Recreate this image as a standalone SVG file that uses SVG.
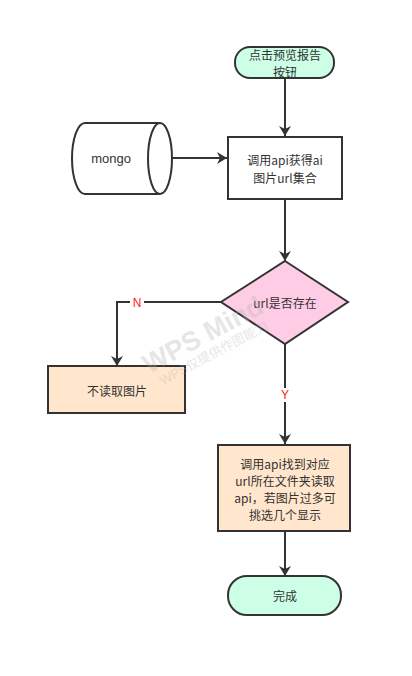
<svg xmlns="http://www.w3.org/2000/svg" width="412" height="676" viewBox="0 0 412 676">
  <defs>
    <marker id="arrow" markerWidth="10" markerHeight="12" refX="10" refY="6" orient="auto" markerUnits="userSpaceOnUse">
      <path d="M0,0 L10,6 L0,12 L3,6 Z" fill="#333333"/>
    </marker>
  </defs>
  <style>
    .shape { stroke: #333333; stroke-width: 2; }
    .term { fill: #ccffe6; }
    .proc { fill: #ffffff; }
    .warm { fill: #ffe6cc; }
    .dec { fill: #ffcce6; }
    .label { font-family: "Noto Sans CJK SC", "Liberation Sans", sans-serif; font-size: 12px; fill: #333333; text-anchor: middle; dominant-baseline: central; }
    .sans { font-family: "Liberation Sans", Arial, sans-serif; font-size: 13px; fill: #333333; text-anchor: middle; dominant-baseline: central; }
    .edge { fill: none; stroke: #333333; stroke-width: 2; }
    .branch { font-family: "Liberation Sans", Arial, sans-serif; font-size: 12px; fill: #ff2020; text-anchor: middle; dominant-baseline: central; }
    .wm { font-family: "Liberation Sans", "Noto Sans CJK SC", sans-serif; fill: #b0b0b0; opacity: 0.3; }
  </style>
  <rect width="412" height="676" fill="#ffffff"/>

  <!-- connectors -->
  <g id="connectors">
    <line class="edge" x1="285" y1="78" x2="285" y2="136" marker-end="url(#arrow)"/>
    <line class="edge" x1="172" y1="158" x2="227" y2="158" marker-end="url(#arrow)"/>
    <line class="edge" x1="285" y1="199" x2="285" y2="261" marker-end="url(#arrow)"/>
    <polyline class="edge" points="221,302 117,302 117,366" marker-end="url(#arrow)"/>
    <line class="edge" x1="285" y1="344" x2="285" y2="444" marker-end="url(#arrow)"/>
    <line class="edge" x1="285" y1="532" x2="285" y2="576" marker-end="url(#arrow)"/>
    <rect x="130" y="296" width="14" height="13" fill="#ffffff"/>
    <text class="branch" x="137" y="303">N</text>
    <rect x="279" y="388" width="12" height="14" fill="#ffffff"/>
    <text class="branch" x="285" y="395">Y</text>
  </g>

  <g id="start">
    <rect class="shape term" x="235" y="47" width="99" height="31" rx="15" ry="15"/>
    <text class="label" x="285" y="54">点击预览报告</text>
    <text class="label" x="285" y="71">按钮</text>
  </g>

  <g id="mongo">
    <path class="shape proc" d="M85,123 L160,123 A12,35.5 0 0 1 160,194 L85,194 A13,35.5 0 0 1 85,123 Z"/>
    <path class="shape" fill="none" d="M160,123 A12,35.5 0 0 0 160,194"/>
    <text class="sans" x="111" y="158">mongo</text>
  </g>

  <g id="fetch">
    <rect class="shape proc" x="228" y="137" width="114" height="62"/>
    <text class="label" x="285" y="159">调用api获得ai</text>
    <text class="label" x="285" y="177">图片url集合</text>
  </g>

  <g id="decision">
    <polygon class="shape dec" points="285,261 348,302 285,344 221,302"/>
    <text class="label" x="285" y="302">url是否存在</text>
  </g>

  <g id="skip">
    <rect class="shape warm" x="48" y="366" width="137" height="47"/>
    <text class="label" x="117" y="390">不读取图片</text>
  </g>

  <g id="read">
    <rect class="shape warm" x="218" y="445" width="132" height="86"/>
    <text class="label" x="285" y="463">调用api找到对应</text>
    <text class="label" x="285" y="480">url所在文件夹读取</text>
    <text class="label" x="285" y="497">api，若图片过多可</text>
    <text class="label" x="285" y="514">挑选几个显示</text>
  </g>

  <g id="end">
    <rect class="shape term" x="228" y="576" width="113" height="39" rx="19" ry="19"/>
    <text class="label" x="285" y="595">完成</text>
  </g>

  <!-- watermark overlay -->
  <g id="watermark">
    <text class="wm" x="207" y="343" font-size="27" font-weight="bold" text-anchor="middle" transform="rotate(-28 207 343)">WPS Mind</text>
    <text class="wm" x="216" y="357" font-size="13" text-anchor="middle" transform="rotate(-28 216 357)">WPS仅提供作图能力</text>
  </g>
</svg>
